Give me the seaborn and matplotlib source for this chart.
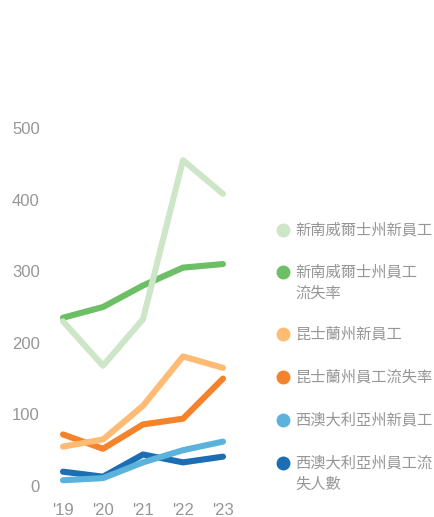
import matplotlib
matplotlib.use("Agg")
import matplotlib.pyplot as plt
from matplotlib.lines import Line2D
import seaborn as sns
import pandas as pd

years = ["'19", "'20", "'21", "'22", "'23"]
series_names = [
    "新南威爾士州新員工",
    "新南威爾士州員工\n流失率",
    "昆士蘭州新員工",
    "昆士蘭州員工流失率",
    "西澳大利亞州新員工",
    "西澳大利亞州員工流\n失人數",
]
nsw_new = [230, 168, 233, 455, 408]
nsw_turnover = [235, 250, 280, 305, 310]
qld_new = [55, 65, 112, 181, 165]
qld_turnover = [72, 52, 86, 94, 150]
wa_new = [8, 11, 33, 50, 62]
wa_turnover = [20, 13, 44, 33, 41]
colors = ["#cde6c7", "#6cbf65", "#fdbb74", "#f5832b", "#5bb3dc", "#1b6db4"]
y_ticks = [0, 100, 200, 300, 400, 500]

values = [nsw_new, nsw_turnover, qld_new, qld_turnover, wa_new, wa_turnover]
df = pd.DataFrame(
    [(name, i, v) for name, vals in zip(series_names, values) for i, v in enumerate(vals)],
    columns=["series", "year", "value"],
)

sns.set_theme(style="white")
plt.rcParams["font.family"] = ["Noto Sans CJK TC", "DejaVu Sans"]

W, H = 434, 517
fig = plt.figure(figsize=(W / 100, H / 100), dpi=100)
ax = fig.add_axes([55 / W, (H - 486) / H, 176 / W, 358 / H])

# later (lighter) series are drawn on top
for name, col in list(zip(series_names, colors))[::-1]:
    sns.lineplot(data=df[df.series == name], x="year", y="value", color=col,
                 linewidth=4.4, ax=ax, legend=False, clip_on=False)

ax.set_xlim(-0.2, 4.2)
ax.set_ylim(0, 500)
ax.set_xticks(range(len(years)))
ax.set_xticklabels(years)
ax.set_yticks(y_ticks)
ax.set_yticklabels([str(t) for t in y_ticks])
ax.set_xlabel("")
ax.set_ylabel("")
for s in ax.spines.values():
    s.set_visible(False)
ax.tick_params(axis="y", length=0, pad=11, labelsize=12, labelcolor="#969696")
ax.tick_params(axis="x", length=0, pad=12, labelsize=12, labelcolor="#969696")
for lab in ax.get_xticklabels() + ax.get_yticklabels():
    lab.set_family(["Liberation Sans", "DejaVu Sans"])

# legend drawn as markers and text in figure coordinates
legend_y = [230, 272, 334, 377, 420, 463]
for name, col, y in zip(series_names, colors, legend_y):
    fy = (H - y) / H
    fig.add_artist(Line2D([283 / W], [fy], marker="o", markersize=9,
                          color=col, linestyle="none", transform=fig.transFigure))
    fig.text(295 / W, fy + 8.5 / H, name, fontsize=11, color="#969696",
             va="top", ha="left", linespacing=1.3)

fig.savefig("out.png", dpi=100)
